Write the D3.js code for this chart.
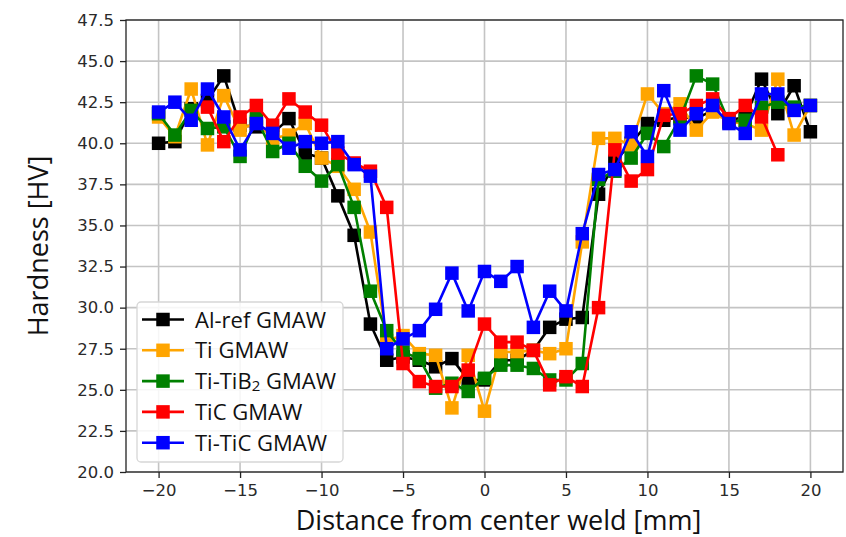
<!DOCTYPE html>
<html>
<head>
<meta charset="utf-8">
<script src="https://cdn.jsdelivr.net/npm/d3@7"></script>
<style>
  body { margin: 0; background: #fff; }
</style>
</head>
<body>
<div id="chart"></div>
<script>
// distance from weld centre, mm
var distance = [-20,-19,-18,-17,-16,-15,-14,-13,-12,-11,-10,-9,-8,-7,-6,-5,-4,-3,-2,-1,0,
                1,2,3,4,5,6,7,8,9,10,11,12,13,14,15,16,17,18,19,20];

// hardness values (HV)
var alRef  = [40.0,40.1,42.1,42.6,44.1,41.1,41.0,40.6,41.5,39.4,39.1,36.8,34.4,29.0,26.8,27.0,26.8,26.4,26.9,25.6,25.6,
              26.8,26.8,27.4,28.8,29.3,29.4,36.9,38.9,40.0,41.2,41.4,41.6,41.5,42.0,41.4,41.6,43.9,41.8,43.5,40.7];
var ti     = [41.6,40.4,43.3,39.9,42.9,40.8,41.3,40.3,40.5,41.2,39.1,38.6,37.2,34.6,28.0,28.3,27.2,27.1,23.9,27.1,23.7,
              27.3,27.3,27.4,27.2,27.5,34.0,40.3,40.3,39.9,43.0,41.8,42.4,40.8,41.9,41.3,41.2,40.8,43.9,40.5,42.3];
var tiTiB2 = [41.8,40.5,42.0,40.9,41.0,39.2,41.5,39.5,40.0,38.6,37.7,38.7,36.1,31.0,28.6,27.3,26.9,25.1,25.4,24.9,25.7,
              26.5,26.5,26.3,25.6,25.6,26.6,37.8,38.3,39.1,40.6,39.8,41.5,44.1,43.6,41.3,41.4,42.2,42.5,42.2,42.3];
var tiC    = [null,null,null,42.2,40.1,41.6,42.3,41.1,42.7,41.9,41.1,39.4,38.8,38.3,36.1,26.6,25.5,25.2,25.2,26.2,29.0,
              27.9,27.9,27.4,25.3,25.8,25.2,30.0,39.6,37.7,38.4,41.7,41.8,42.3,42.7,41.5,42.3,41.6,39.3,null,null];
var tiTiC  = [41.9,42.5,41.4,43.3,41.6,39.6,41.2,40.6,39.7,40.1,40.0,40.1,38.7,38.0,27.5,28.1,28.6,29.9,32.1,29.8,32.2,
              31.6,32.5,28.8,31.0,29.8,34.5,38.1,38.4,40.7,39.2,43.2,40.8,41.8,42.3,41.2,40.6,43.0,43.0,42.0,42.3];

var seriesNames  = ["Al-ref GMAW", "Ti GMAW", "Ti-TiB2 GMAW", "TiC GMAW", "Ti-TiC GMAW"];
var seriesColors = ["#000000", "#ffa500", "#008000", "#ff0000", "#0000ff"];
var seriesValues = [alRef, ti, tiTiB2, tiC, tiTiC];

var xTicks = [-20,-15,-10,-5,0,5,10,15,20];
var yTicks = [20,22.5,25,27.5,30,32.5,35,37.5,40,42.5,45,47.5];

function drawChart() {
  var width = 846, height = 537;
  var plotLeft = 126, plotRight = 843, plotTop = 20, plotBottom = 472;

  var svg = d3.select("#chart").append("svg")
      .attr("width", width)
      .attr("height", height);

  var x = d3.scaleLinear().domain([-22, 22]).range([plotLeft, plotRight]);
  var y = d3.scaleLinear().domain([20, 47.5]).range([plotBottom, plotTop]);

  var tickFont = "'DejaVu Sans', sans-serif";
  var labelFont = "'Open Sans', 'Liberation Sans', sans-serif";

  // grid
  var grid = svg.append("g").attr("class", "grid");
  grid.selectAll("line.gx").data(xTicks).enter().append("line")
      .attr("class", "gx")
      .attr("x1", function(d){ return x(d); }).attr("x2", function(d){ return x(d); })
      .attr("y1", plotTop).attr("y2", plotBottom)
      .attr("stroke", "#c4c4c4").attr("stroke-width", 1.6);
  grid.selectAll("line.gy").data(yTicks).enter().append("line")
      .attr("class", "gy")
      .attr("x1", plotLeft).attr("x2", plotRight)
      .attr("y1", function(d){ return y(d); }).attr("y2", function(d){ return y(d); })
      .attr("stroke", "#c4c4c4").attr("stroke-width", 1.6);

  // axes
  var xAxis = svg.append("g")
      .attr("transform", "translate(0," + plotBottom + ")")
      .call(d3.axisBottom(x).tickValues(xTicks).tickSize(6).tickPadding(6)
        .tickFormat(function(d){ return d < 0 ? "\u2212" + Math.abs(d) : d; }));
  var yAxis = svg.append("g")
      .attr("transform", "translate(" + plotLeft + ",0)")
      .call(d3.axisLeft(y).tickValues(yTicks).tickSize(6).tickPadding(6)
        .tickFormat(d3.format(".1f")));

  [xAxis, yAxis].forEach(function(ax){
    ax.select(".domain").remove();
    ax.selectAll(".tick line").attr("stroke", "#222").attr("stroke-width", 1.3);
    ax.selectAll(".tick text").attr("fill", "#2a2a2a")
      .style("font-family", tickFont).style("font-size", "16.5px");
  });

  // series, drawn in order so blue ends on top
  var markerSize = 13.5;
  seriesValues.forEach(function(vals, i){
    var pts = distance.map(function(d, j){ return {x: d, y: vals[j]}; })
                      .filter(function(p){ return p.y != null; });
    var line = d3.line()
      .x(function(p){ return x(p.x); })
      .y(function(p){ return y(p.y); });
    var g = svg.append("g").attr("class", "series");
    g.append("path").datum(pts)
      .attr("d", line)
      .attr("fill", "none")
      .attr("stroke", seriesColors[i])
      .attr("stroke-width", 2.6)
      .attr("stroke-linejoin", "round");
    g.selectAll("rect").data(pts).enter().append("rect")
      .attr("x", function(p){ return x(p.x) - markerSize/2; })
      .attr("y", function(p){ return y(p.y) - markerSize/2; })
      .attr("width", markerSize).attr("height", markerSize)
      .attr("fill", seriesColors[i]);
  });

  // frame
  svg.append("rect")
    .attr("x", plotLeft).attr("y", plotTop)
    .attr("width", plotRight - plotLeft).attr("height", plotBottom - plotTop)
    .attr("fill", "none").attr("stroke", "#222").attr("stroke-width", 1.3);

  // axis titles
  svg.append("text")
    .attr("x", (plotLeft + plotRight) / 2 + 14).attr("y", 530)
    .attr("text-anchor", "middle")
    .style("font-family", labelFont).style("font-size", "27px").attr("fill", "#111")
    .text("Distance from center weld [mm]");
  svg.append("text")
    .attr("transform", "translate(48," + ((plotTop + plotBottom) / 2) + ") rotate(-90)")
    .attr("text-anchor", "middle")
    .style("font-family", labelFont).style("font-size", "27px").attr("fill", "#111")
    .text("Hardness [HV]");

  // legend
  var legend = svg.append("g").attr("transform", "translate(137,302)");
  legend.append("rect")
    .attr("width", 206).attr("height", 160).attr("rx", 4)
    .attr("fill", "#fff").attr("fill-opacity", 0.85)
    .attr("stroke", "#d6d6d6").attr("stroke-width", 1.3);
  seriesNames.forEach(function(name, i){
    var row = legend.append("g").attr("transform", "translate(0," + (17.5 + i * 30.8) + ")");
    row.append("line").attr("x1", 5).attr("x2", 47).attr("y1", 0).attr("y2", 0)
      .attr("stroke", seriesColors[i]).attr("stroke-width", 2.6);
    row.append("rect").attr("x", 26 - markerSize/2).attr("y", -markerSize/2)
      .attr("width", markerSize).attr("height", markerSize).attr("fill", seriesColors[i]);
    var t = row.append("text").attr("x", 58).attr("y", 8)
      .style("font-family", labelFont).style("font-size", "22px").attr("fill", "#111");
    if (name.indexOf("TiB2") >= 0) {
      t.append("tspan").text("Ti-TiB");
      t.append("tspan").attr("dy", 2).style("font-size", "15px").text("2");
      t.append("tspan").attr("dy", -2).text(" GMAW");
    } else {
      t.text(name);
    }
  });
}

drawChart();
</script>
</body>
</html>
